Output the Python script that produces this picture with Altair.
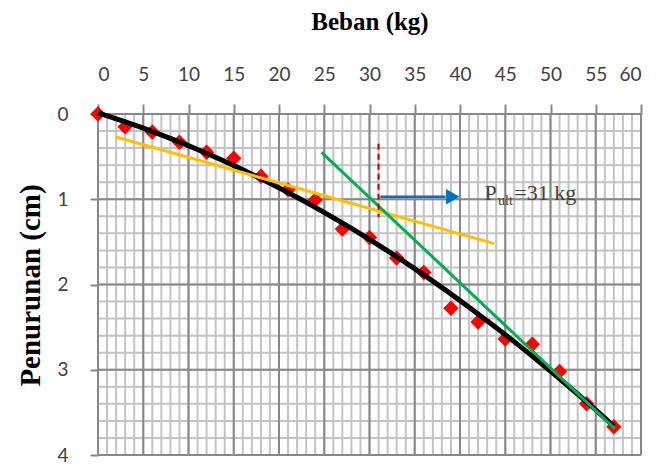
import altair as alt
import pandas as pd

# Data
beban = [0, 3, 6, 9, 12, 15, 18, 21, 24, 27, 30, 33, 36, 39, 42, 45, 48, 51, 54, 57]
penurunan = [0, 0.15, 0.21, 0.33, 0.45, 0.52, 0.73, 0.89, 1.01, 1.35, 1.45, 1.69,
             1.86, 2.28, 2.44, 2.64, 2.70, 3.02, 3.40, 3.67]

# tangent lines (start / end)
orange_x = [2.0, 43.8]
orange_y = [0.27, 1.52]
green_x = [24.7, 57.1]
green_y = [0.45, 3.69]

# Pult marker
pult_x = [31, 31]
pult_y = [0.35, 1.21]
arrow_x = [31.2, 38.4]
arrow_y = [0.97, 0.97]
head_x = [39.2]
head_y = [0.97]

# grid / ticks
x_major = list(range(0, 61, 5))
x_minor = list(range(0, 61, 1))
y_major = [0, 1, 2, 3, 4]
y_minor = [round(i * 0.2, 1) for i in range(21)]

labels_txt = ["P", "ult", "=31 kg"]
labels_x = [42.7, 44.2, 46.0]
labels_y = [1.01, 1.07, 1.01]
labels_size = [22, 14, 22]

xs = alt.Scale(domain=[0, 60], nice=False)
ys = alt.Scale(domain=[0, 4], reverse=True, nice=False)

axis_x = alt.Axis(orient="top", values=x_major, grid=False, domain=False,
                  tickSize=10, tickColor="#888888", tickWidth=2,
                  labelFont="Lato", labelFontSize=19, labelColor="#404040",
                  labelPadding=20, title="Beban (kg)", titleFont="Liberation Serif",
                  titleFontSize=25, titleFontWeight="bold", titleColor="#000000",
                  titleBaseline="middle", titleY=-93)
axis_y = alt.Axis(orient="left", values=y_major, format="d", grid=False, domain=False,
                  tickSize=8, tickColor="#888888", tickWidth=2,
                  labelFont="Lato", labelFontSize=19, labelColor="#404040",
                  labelPadding=22, title="Penurunan (cm)", titleFont="Liberation Serif",
                  titleFontSize=29, titleFontWeight="bold", titleColor="#000000",
                  titleBaseline="middle", titleX=-68, titleY=171)

df_pts = pd.DataFrame({"beban": beban, "penurunan": penurunan})

vminor = alt.Chart(pd.DataFrame({"v": x_minor})).mark_rule(color="#c3c3c3", strokeWidth=2).encode(
    x=alt.X("v:Q", scale=xs, axis=axis_x))
hminor = alt.Chart(pd.DataFrame({"v": y_minor})).mark_rule(color="#c3c3c3", strokeWidth=2).encode(
    y=alt.Y("v:Q", scale=ys, axis=axis_y))
vmajor = alt.Chart(pd.DataFrame({"v": x_major})).mark_rule(color="#888888", strokeWidth=2).encode(
    x=alt.X("v:Q", scale=xs))
hmajor = alt.Chart(pd.DataFrame({"v": y_major})).mark_rule(color="#888888", strokeWidth=2).encode(
    y=alt.Y("v:Q", scale=ys))

pts = alt.Chart(df_pts).mark_point(shape="diamond", filled=True, color="#ff0000", size=240, opacity=1).encode(
    x=alt.X("beban:Q", scale=xs), y=alt.Y("penurunan:Q", scale=ys))

trend = alt.Chart(df_pts).transform_regression(
    "beban", "penurunan", method="poly", order=2, extent=[0, 57]
).mark_line(color="#000000", strokeWidth=5).encode(
    x=alt.X("beban:Q", scale=xs), y=alt.Y("penurunan:Q", scale=ys))

green = alt.Chart(pd.DataFrame({"x": green_x, "y": green_y})).mark_line(color="#00b050", strokeWidth=3).encode(
    x=alt.X("x:Q", scale=xs), y=alt.Y("y:Q", scale=ys))
orange = alt.Chart(pd.DataFrame({"x": orange_x, "y": orange_y})).mark_line(color="#ffc000", strokeWidth=3).encode(
    x=alt.X("x:Q", scale=xs), y=alt.Y("y:Q", scale=ys))

dashed = alt.Chart(pd.DataFrame({"x": pult_x, "y": pult_y})).mark_line(
    color="#c00000", strokeWidth=2, strokeDash=[6, 4]).encode(
    x=alt.X("x:Q", scale=xs), y=alt.Y("y:Q", scale=ys))
arrow = alt.Chart(pd.DataFrame({"x": arrow_x, "y": arrow_y})).mark_line(color="#0070c0", strokeWidth=2.5).encode(
    x=alt.X("x:Q", scale=xs), y=alt.Y("y:Q", scale=ys))
head = alt.Chart(pd.DataFrame({"x": head_x, "y": head_y})).mark_point(
    shape="triangle-right", filled=True, color="#0070c0", size=240, opacity=1).encode(
    x=alt.X("x:Q", scale=xs), y=alt.Y("y:Q", scale=ys))

txt = alt.Chart(pd.DataFrame({"x": labels_x, "y": labels_y, "t": labels_txt, "s": labels_size})).mark_text(
    align="left", baseline="alphabetic", font="Liberation Serif", color="#404040").encode(
    x=alt.X("x:Q", scale=xs), y=alt.Y("y:Q", scale=ys), text="t:N",
    size=alt.Size("s:Q", scale=None, legend=None))

chart = alt.layer(vminor, hminor, vmajor, hmajor, pts, trend, orange, green, dashed, arrow, head, txt).properties(
    width=543, height=341,
    autosize=alt.AutoSizeParams(type="none"),
    padding={"left": 90, "top": 106, "right": 11, "bottom": 14},
).configure_view(stroke=None).configure(background="#ffffff")

chart.save("out.html", embed_options={"renderer": "svg", "actions": False})
